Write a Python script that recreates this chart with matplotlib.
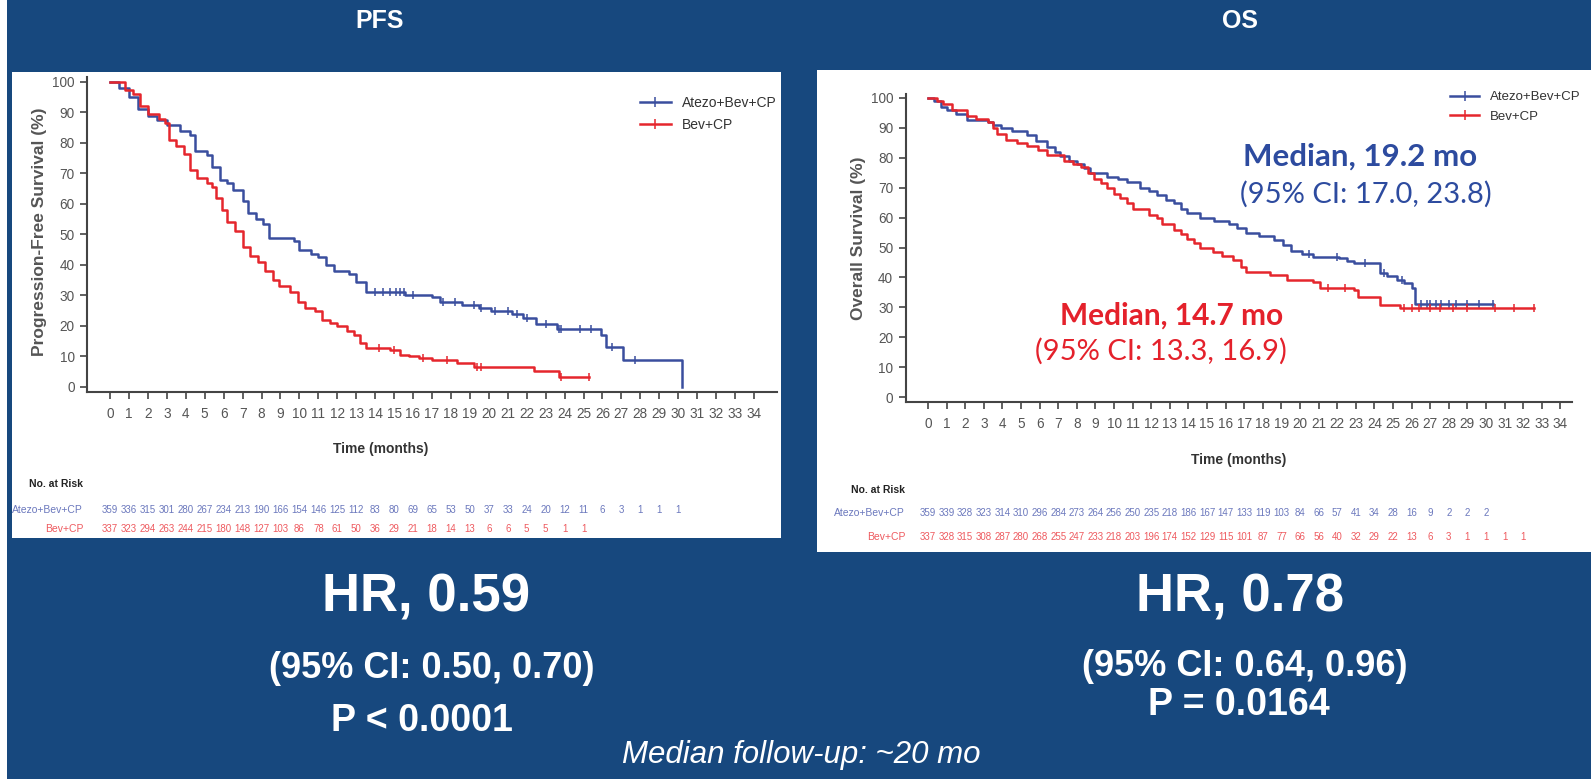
import matplotlib
matplotlib.use('Agg')
import matplotlib.pyplot as plt
import matplotlib.font_manager as fm
from matplotlib.patches import Rectangle
from matplotlib.lines import Line2D
from matplotlib import transforms
import numpy as np

# ---- data ----
months = list(range(0, 35))

# PFS, Atezo+Bev+CP: step times (months) and survival (%) after each step
pfs_atezo_t = [0, 0.5, 1.0, 1.5, 2.0, 2.5, 3.0, 3.7, 4.2, 4.5, 5.1, 5.4, 5.8, 6.2, 6.5, 7.0, 7.3,
               7.7, 8.1, 8.4, 9.7, 10.0, 10.6, 11.0, 11.4, 11.8, 12.6, 13.0, 13.5, 15.6, 17.0, 17.4,
               18.6, 19.5, 20.1, 21.2, 21.8, 22.5, 23.6, 25.9, 26.2, 27.1, 30.2]
pfs_atezo_s = [100, 98, 95, 91, 89, 87.5, 86, 84, 82.5, 77.5, 76, 72, 68, 67, 64.5, 61, 57,
               55, 53.5, 49, 48, 45, 43.5, 42.5, 40, 38, 37, 34.5, 31, 30.3, 29.5, 28,
               27, 26, 25, 24, 22.5, 20.5, 19, 17, 13, 9, 0]
pfs_atezo_cens = [14.0, 14.4, 14.8, 15.1, 15.3, 15.5, 16.0, 17.6, 18.2, 19.2, 19.6, 20.3, 21.0,
                  21.5, 22.0, 23.0, 23.7, 23.8, 24.8, 25.4, 26.5, 27.7]

# PFS, Bev+CP
pfs_bev_t = [0, 0.8, 1.2, 1.6, 2.0, 2.6, 2.9, 3.1, 3.5, 3.9, 4.2, 4.6, 5.1, 5.4, 5.6, 5.9, 6.2,
             6.6, 7.0, 7.4, 7.8, 8.2, 8.6, 8.9, 9.5, 9.9, 10.3, 10.8, 11.2, 11.6, 12.0, 12.5,
             12.9, 13.2, 13.5, 14.8, 15.3, 15.8, 16.3, 17.0, 18.3, 19.2, 22.4, 23.7, 25.3]
pfs_bev_s = [100, 97.5, 96, 92, 89.5, 88, 86.5, 81, 79, 76.5, 71, 68.5, 67, 65.5, 62, 58, 54,
             51, 46, 43, 41, 38, 35, 33, 31, 28, 26, 25, 22, 21, 20, 18.5,
             17, 14.5, 12.8, 12, 10.5, 10, 9.5, 9, 8, 6.5, 5.2, 3.3, 3.3]
pfs_bev_cens = [14.2, 15.0, 16.5, 17.8, 19.4, 19.6, 23.8, 25.3]

# OS, Atezo+Bev+CP
os_atezo_t = [0, 0.3, 0.7, 1.0, 1.5, 2.1, 3.2, 3.5, 3.9, 4.5, 5.3, 5.8, 6.4, 6.8, 7.1, 7.6, 8.0,
              8.4, 8.7, 9.6, 10.2, 10.7, 11.4, 11.9, 12.3, 12.8, 13.2, 13.6, 13.9, 14.6, 15.4,
              16.2, 16.6, 17.1, 17.8, 18.6, 19.1, 19.5, 20.1, 20.7, 22.1, 22.5, 22.9, 24.3,
              24.7, 25.2, 25.6, 26.0, 26.2, 30.4]
os_atezo_s = [100, 99, 97, 96, 94.5, 92.5, 92, 91, 90, 89, 87.5, 85.5, 83.5, 82, 80.5, 79, 78,
              76.5, 75, 73.5, 73, 72, 70, 69, 67.5, 66, 65, 63, 61.5, 60, 59,
              58, 56.5, 55, 54, 52.5, 51, 49, 48, 46.8, 46.4, 45.5, 44.8, 41.5,
              40.5, 39, 38, 36.4, 31, 31]
os_atezo_cens = [20.5, 22.0, 23.5, 24.5, 25.5, 26.5, 26.8, 27.0, 27.3, 27.6, 28.0, 28.4, 29.0,
                 29.6, 30.4]

# OS, Bev+CP
os_bev_t = [0, 0.5, 0.8, 1.3, 2.1, 2.6, 3.2, 3.5, 3.7, 4.2, 4.8, 5.3, 5.9, 6.4, 7.3, 7.8, 8.2,
            8.6, 8.9, 9.3, 9.6, 10.0, 10.3, 10.7, 11.0, 11.9, 12.3, 12.6, 13.2, 13.6, 13.9,
            14.3, 14.6, 15.3, 15.8, 16.4, 16.8, 17.1, 18.4, 19.3, 20.7, 21.1, 22.9, 23.1,
            24.3, 25.4, 32.6]
os_bev_s = [100, 99, 98, 96, 94, 93, 92, 90, 88, 86, 85, 84, 82.5, 81, 79, 78, 77,
            75, 73, 71.5, 70, 68, 66.5, 65, 63, 61, 60, 58, 56, 54.5, 53,
            51.5, 50, 48.5, 47, 45.8, 43.5, 41.8, 40.8, 39, 38.5, 36.5, 35.8, 33.5,
            30.8, 29.7, 29.7]
os_bev_cens = [21.5, 22.4, 25.6, 26.0, 26.4, 27.0, 27.5, 28.2, 29.0, 30.5, 31.5, 32.6]

# numbers at risk (one value per month from 0)
pfs_risk_atezo = [359, 336, 315, 301, 280, 267, 234, 213, 190, 166, 154, 146, 125, 112, 83, 80,
                  69, 65, 53, 50, 37, 33, 24, 20, 12, 11, 6, 3, 1, 1, 1]
pfs_risk_bev = [337, 323, 294, 263, 244, 215, 180, 148, 127, 103, 86, 78, 61, 50, 36, 29, 21,
                18, 14, 13, 6, 6, 5, 5, 1, 1]
os_risk_atezo = [359, 339, 328, 323, 314, 310, 296, 284, 273, 264, 256, 250, 235, 218, 186, 167,
                 147, 133, 119, 103, 84, 66, 57, 41, 34, 28, 16, 9, 2, 2, 2]
os_risk_bev = [337, 328, 315, 308, 287, 280, 268, 255, 247, 233, 218, 203, 196, 174, 152, 129,
               115, 101, 87, 77, 66, 56, 40, 32, 29, 22, 13, 6, 3, 1, 1, 1, 1]

arm_labels = ['Atezo+Bev+CP', 'Bev+CP']

# ---- style ----
BG = '#17487e'
BLUE = '#3a4e9e'
RED = '#e5262d'
BLUE_TXT = '#2d4b9f'
RED_TXT = '#e4212b'
GRAY = '#555555'

names = {f.name for f in fm.fontManager.ttflist}
NARROW = 'Liberation Sans Narrow' if 'Liberation Sans Narrow' in names else 'Liberation Sans'
SANS = 'Liberation Sans'
CAL = 'Lato' if 'Lato' in names else 'DejaVu Sans'

plt.rcParams['font.family'] = [SANS, 'DejaVu Sans']

W, H = 1591, 779
fig = plt.figure(figsize=(W / 100, H / 100), dpi=100)
fig.patch.set_facecolor(BG)


def fx(px):
    return px / W


def fy(py):
    return 1 - py / H


def box(x0, y0, x1, y1):
    return [fx(x0), fy(y1), fx(x1) - fx(x0), fy(y0) - fy(y1)]


# white strip at far left and the two white panels (behind the axes)
for x0, y0, x1, y1 in [(0, 0, 7, H), (12, 72, 781, 538), (817, 70, W, 552)]:
    fig.patches.append(Rectangle((fx(x0), fy(y1)), fx(x1) - fx(x0), fy(y0) - fy(y1),
                                 transform=fig.transFigure, facecolor='white',
                                 edgecolor='none', zorder=-5))


def km_panel(rect, xlim, ylabel, curves, risk_rows, risk_y, label_x, norisk_y, legend_xy,
             legend_fs, xlabel_pos):
    ax = fig.add_axes(rect)
    ax.set_facecolor('none')
    ax.set_xlim(*xlim)
    ax.set_ylim(-1.65, 101.5)
    for side in ('top', 'right'):
        ax.spines[side].set_visible(False)
    for side in ('left', 'bottom'):
        ax.spines[side].set_color('#444444')
        ax.spines[side].set_linewidth(1.5)
    ax.set_xticks(months)
    ax.set_yticks(range(0, 101, 10))
    ax.tick_params(colors='#444444', labelcolor=GRAY, labelsize=9.8, length=5, width=1.2, pad=4)
    ax.tick_params(axis='x', pad=6)

    handles = []
    for t, s, cens, color in curves:
        ax.step(t, s, where='post', color=color, lw=1.8, zorder=3)
        t_arr = np.array(t)
        s_arr = np.array(s)
        idx = np.searchsorted(t_arr, cens, side='right') - 1
        ax.plot(cens, s_arr[idx], ls='none', marker='|', ms=6, mew=1.1, color=color, zorder=3)
        handles.append(Line2D([], [], color=color, lw=1.8, marker='|', ms=7, mew=1.1))

    ax.legend(handles, arm_labels, loc='upper left',
              bbox_to_anchor=(fx(legend_xy[0]), fy(legend_xy[1])),
              bbox_transform=fig.transFigure, frameon=False, fontsize=legend_fs, handlelength=2.2,
              handletextpad=0.8, labelspacing=0.55, borderpad=0, borderaxespad=0,
              labelcolor='#333333')

    ax.set_ylabel(ylabel, fontsize=12.5, fontweight='bold', color=GRAY)

    # x label and numbers at risk, placed in data x / figure y
    tr = transforms.blended_transform_factory(ax.transData, fig.transFigure)
    ax.text(xlabel_pos[0], fy(xlabel_pos[1]), 'Time (months)', fontsize=10, fontweight='bold',
            color='#333333', ha='center', va='center', transform=tr)
    fig.text(fx(label_x), fy(norisk_y), 'No. at Risk', fontsize=7.5, fontweight='bold',
             color='#222222', ha='right', va='center')
    for (vals, color), yy, lab in zip(risk_rows, risk_y, arm_labels):
        fig.text(fx(label_x), fy(yy), lab, fontsize=7.5, color=color, ha='right', va='center')
        for m, v in zip(months, vals):
            ax.text(m, fy(yy), str(v), fontsize=7, color=color, ha='center', va='center',
                    transform=tr, clip_on=False)
    return ax


ax_pfs = km_panel(box(87.3, 77.4, 776.7, 392), (-1.2, 35.2), 'Progression-Free Survival (%)',
                  [(pfs_atezo_t, pfs_atezo_s, pfs_atezo_cens, BLUE),
                   (pfs_bev_t, pfs_bev_s, pfs_bev_cens, RED)],
                  [(pfs_risk_atezo, '#6b78bd'), (pfs_risk_bev, '#ee5a5f')],
                  (510, 529), 83, 484, (640, 96), 10, (14.3, 449))
ax_pfs.yaxis.set_label_coords(fx(47), fy(232), transform=fig.transFigure)

ax_os = km_panel(box(905.7, 93.5, 1571.6, 402), (-1.2, 34.6), 'Overall Survival (%)',
                 [(os_atezo_t, os_atezo_s, os_atezo_cens, BLUE),
                  (os_bev_t, os_bev_s, os_bev_cens, RED)],
                 [(os_risk_atezo, '#6b78bd'), (os_risk_bev, '#ee5a5f')],
                 (513, 537), 905, 490, (1450, 91), 9.5, (16.7, 460))
ax_os.yaxis.set_label_coords(fx(866), fy(238), transform=fig.transFigure)

# median annotations in the OS panel
cal = [CAL, 'DejaVu Sans']
fig.text(fx(1243), fy(157), 'Median, 19.2 mo', family=cal, fontweight='bold',
         fontsize=22.5, color=BLUE_TXT, ha='left', va='center')
fig.text(fx(1240), fy(194), '(95% CI: 17.0, 23.8)', family=cal,
         fontsize=21, color=BLUE_TXT, ha='left', va='center')
fig.text(fx(1060), fy(316), 'Median, 14.7 mo', family=cal, fontweight='bold',
         fontsize=21.5, color=RED_TXT, ha='left', va='center')
fig.text(fx(1035), fy(351), '(95% CI: 13.3, 16.9)', family=cal,
         fontsize=21, color=RED_TXT, ha='left', va='center')

# titles and summary text on the blue background
big = dict(family=[NARROW, 'DejaVu Sans'], fontweight='bold', color='white', ha='center', va='center')
fig.text(fx(380), fy(21), 'PFS', fontsize=18, **big)
fig.text(fx(1240), fy(21), 'OS', fontsize=18, **big)
fig.text(fx(426), fy(598), 'HR, 0.59', fontsize=38, **big)
fig.text(fx(432), fy(669), '(95% CI: 0.50, 0.70)', fontsize=26, **big)
fig.text(fx(422), fy(721), 'P < 0.0001', fontsize=27, **big)
fig.text(fx(1240), fy(598), 'HR, 0.78', fontsize=38, **big)
fig.text(fx(1245), fy(666), '(95% CI: 0.64, 0.96)', fontsize=26, **big)
fig.text(fx(1239), fy(705), 'P = 0.0164', fontsize=27, **big)
fig.text(fx(801), fy(755), 'Median follow-up: ~20 mo', fontsize=22.5, style='italic',
         color='white', ha='center', va='center')

fig.savefig('out.png', dpi=100, facecolor=fig.get_facecolor())
